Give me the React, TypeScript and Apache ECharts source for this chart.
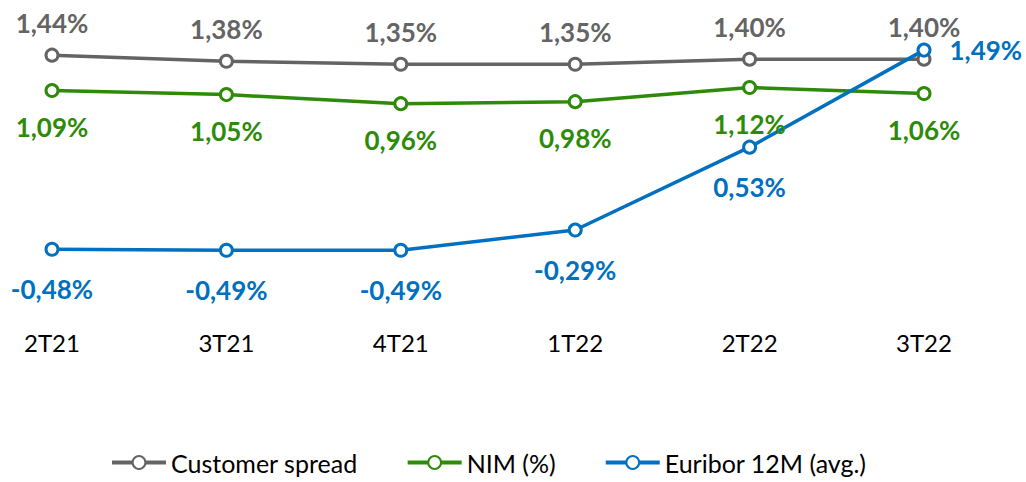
import React, { useEffect, useRef } from "react";
import * as echarts from "echarts";

const categories = ["2T21", "3T21", "4T21", "1T22", "2T22", "3T22"];
const customerSpread = [1.44, 1.38, 1.35, 1.35, 1.4, 1.4];
const nim = [1.09, 1.05, 0.96, 0.98, 1.12, 1.06];
const euribor = [-0.48, -0.49, -0.49, -0.29, 0.53, 1.49];

const GRAY = "#646464";
const GREEN = "#2e8b0a";
const BLUE = "#0070c0";
const FONT = "Lato, 'Open Sans', sans-serif";

const fmt = (v: number) => v.toFixed(2).replace(".", ",") + "%";

export default function App() {
  const ref = useRef<HTMLDivElement>(null);
  useEffect(() => {
    if (!ref.current) return;
    const chart = echarts.init(ref.current, undefined, { renderer: "svg" });
    const mk = (name: string, data: number[], color: string, pos: string, dist: number) => ({
      name,
      type: "line",
      data: data.map((v, i) => {
        if (name === "Euribor 12M (avg.)" && i === data.length - 1) {
          return { value: v, label: { position: "right", distance: 18 } };
        }
        return v;
      }),
      symbol: "circle",
      symbolSize: 12,
      showSymbol: true,
      lineStyle: { color, width: 3.5 },
      itemStyle: { color: "#ffffff", borderColor: color, borderWidth: 3 },
      label: {
        show: true,
        position: pos,
        distance: dist,
        color,
        fontFamily: FONT,
        fontWeight: "bold",
        fontSize: 26,
        formatter: (p: any) => fmt(p.value),
      },
      emphasis: { disabled: true },
    });
    chart.setOption({
      animation: false,
      backgroundColor: "#ffffff",
      grid: { left: 52, right: 102, top: 39, bottom: 160, containLabel: false },
      xAxis: {
        type: "category",
        data: categories,
        boundaryGap: false,
        axisLine: { show: false },
        axisTick: { show: false },
        splitLine: { show: false },
        axisLabel: { color: "#000000", fontFamily: FONT, fontSize: 24, margin: 8 },
      },
      yAxis: {
        type: "value",
        min: -1.2,
        max: 1.6,
        show: false,
        splitLine: { show: false },
      },
      legend: {
        bottom: 2,
        left: 105,
        itemWidth: 54,
        itemHeight: 16,
        itemGap: 48,
        lineStyle: { width: 4 },
        textStyle: { color: "#000000", fontFamily: FONT, fontSize: 25 },
        data: ["Customer spread", "NIM (%)", "Euribor 12M (avg.)"],
      },
      series: [
        mk("Customer spread", customerSpread, GRAY, "top", 12),
        mk("NIM (%)", nim, GREEN, "bottom", 16),
        mk("Euribor 12M (avg.)", euribor, BLUE, "bottom", 19),
      ],
    });
    return () => chart.dispose();
  }, []);
  return <div ref={ref} style={{ width: 1026, height: 482, position: "absolute", left: 0, top: 0 }} />;
}
